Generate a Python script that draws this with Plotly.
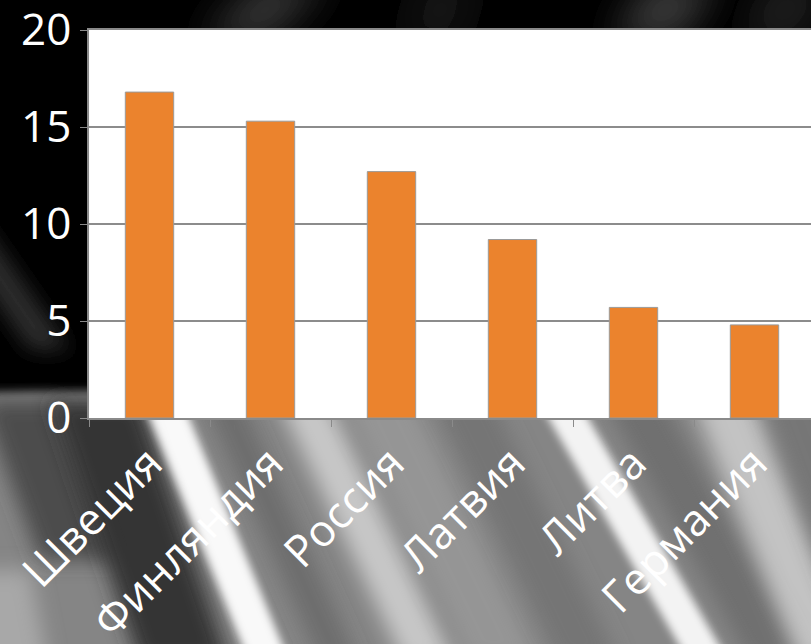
import base64
import plotly.graph_objects as go

# ---- data ----
countries = ["Швеция", "Финляндия", "Россия", "Латвия", "Литва", "Германия"]
values = [16.8, 15.3, 12.7, 9.2, 5.7, 4.8]
y_ticks = [0, 5, 10, 15, 20]

W, H = 811, 644
ML, MR, MT, MB = 89, 0, 30, 226
PW, PH = W - ML - MR, H - MT - MB

FONT = "Open Sans, Noto Sans, sans-serif"

# ---- decorative background (dark slide with silver streaks) ----
def band(xt, xb, w, yt, yb, color, op, flt):
    return (f'<polygon points="{xt},{yt} {xt + w},{yt} {xb + w},{yb} {xb},{yb}" '
            f'fill="{color}" fill-opacity="{op}" filter="url(#{flt})"/>')

svg = [f'<svg xmlns="http://www.w3.org/2000/svg" width="{W}" height="{H}" viewBox="0 0 {W} {H}">',
       '<defs>',
       '<filter id="s" x="-50%" y="-50%" width="200%" height="200%"><feGaussianBlur stdDeviation="4"/></filter>',
       '<filter id="m" x="-50%" y="-50%" width="200%" height="200%"><feGaussianBlur stdDeviation="10"/></filter>',
       '<filter id="l" x="-50%" y="-50%" width="200%" height="200%"><feGaussianBlur stdDeviation="18"/></filter>',
       '</defs>',
       f'<rect width="{W}" height="{H}" fill="#000"/>',
       # faint top glows
       band(260, 200, 70, -20, 40, "#3a3a3a", 0.9, "l"),
       band(650, 610, 70, -20, 40, "#404040", 0.9, "l"),
       band(770, 740, 60, -20, 40, "#222", 0.9, "l"),
       band(420, 400, 60, -20, 40, "#151515", 0.9, "l"),
       # faint left streak
       band(-60, 30, 40, 220, 350, "#303030", 0.9, "m"),
       # lower grey area
       f'<path d="M-20,393 C200,387 500,395 {W + 20},399 L{W + 20},{H + 30} L-20,{H + 30} Z" fill="#858585" filter="url(#s)"/>',
       band(-20, 40, 80, 400, 560, "#454545", 0.9, "m"),
       band(50, 140, 90, 400, H + 20, "#2f2f2f", 0.95, "m"),
       band(-40, -20, 70, 570, H + 30, "#b0b0b0", 0.8, "m"),
       band(140, 250, 40, 395, H + 20, "#ffffff", 0.95, "s"),
       band(200, 320, 40, 395, H + 20, "#555555", 0.5, "m"),
       band(275, 405, 50, 395, H + 20, "#d8d8d8", 0.8, "m"),
       band(340, 470, 70, 395, H + 20, "#a0a0a0", 0.6, "m"),
       band(430, 560, 60, 395, H + 20, "#6a6a6a", 0.6, "m"),
       band(535, 690, 40, 395, H + 20, "#ffffff", 0.9, "s"),
       band(600, 750, 60, 395, H + 20, "#666666", 0.7, "m"),
       band(690, 800, 60, 395, H + 20, "#dddddd", 0.7, "m"),
       band(760, 860, 60, 395, H + 20, "#707070", 0.7, "m"),
       '</svg>']
svg_uri = "data:image/svg+xml;base64," + base64.b64encode("".join(svg).encode("utf-8")).decode("ascii")

fig = go.Figure()
fig.add_trace(go.Bar(
    x=countries, y=values,
    marker=dict(color="#EB832D", line=dict(color="#9a9a9a", width=1)),
    hoverinfo="skip",
))

fig.add_layout_image(dict(
    source=svg_uri, xref="paper", yref="paper",
    x=-ML / PW, y=1 + MT / PH, sizex=W / PW, sizey=H / PH,
    xanchor="left", yanchor="top", sizing="stretch", layer="below",
))
fig.add_shape(type="rect", xref="paper", yref="paper", x0=0, x1=1.01, y0=0, y1=1,
              fillcolor="white", line=dict(width=0), layer="below")

fig.update_layout(
    width=W, height=H,
    margin=dict(l=ML, r=MR, t=MT, b=MB, pad=0, autoexpand=False),
    paper_bgcolor="#000000", plot_bgcolor="rgba(0,0,0,0)",
    bargap=0.6, showlegend=False,
    font=dict(family=FONT, color="white"),
)
fig.update_xaxes(
    range=[-0.5, -0.5 + PW / 121.0], automargin=False,
    tickangle=-45, tickfont=dict(size=44, color="white", family=FONT),
    showline=True, mirror=True, linecolor="#8a8a8a", linewidth=1.5,
    ticks="outside", tickson="boundaries", ticklen=7, tickcolor="#8a8a8a",
    showgrid=False, ticklabeloverflow="allow",
)
fig.update_yaxes(
    range=[0, 20], tickvals=y_ticks, automargin=False,
    tickfont=dict(size=44, color="white", family=FONT),
    showline=True, linecolor="#8a8a8a", linewidth=1.5,
    ticks="outside", ticklen=7, tickcolor="#8a8a8a",
    showgrid=True, gridcolor="#8c8c8c", gridwidth=1.5, zeroline=False,
    ticklabeloverflow="allow",
)

fig.write_html("out.html", config={"displayModeBar": False},
               post_script="document.body.style.margin='0';document.body.style.overflow='hidden';")
